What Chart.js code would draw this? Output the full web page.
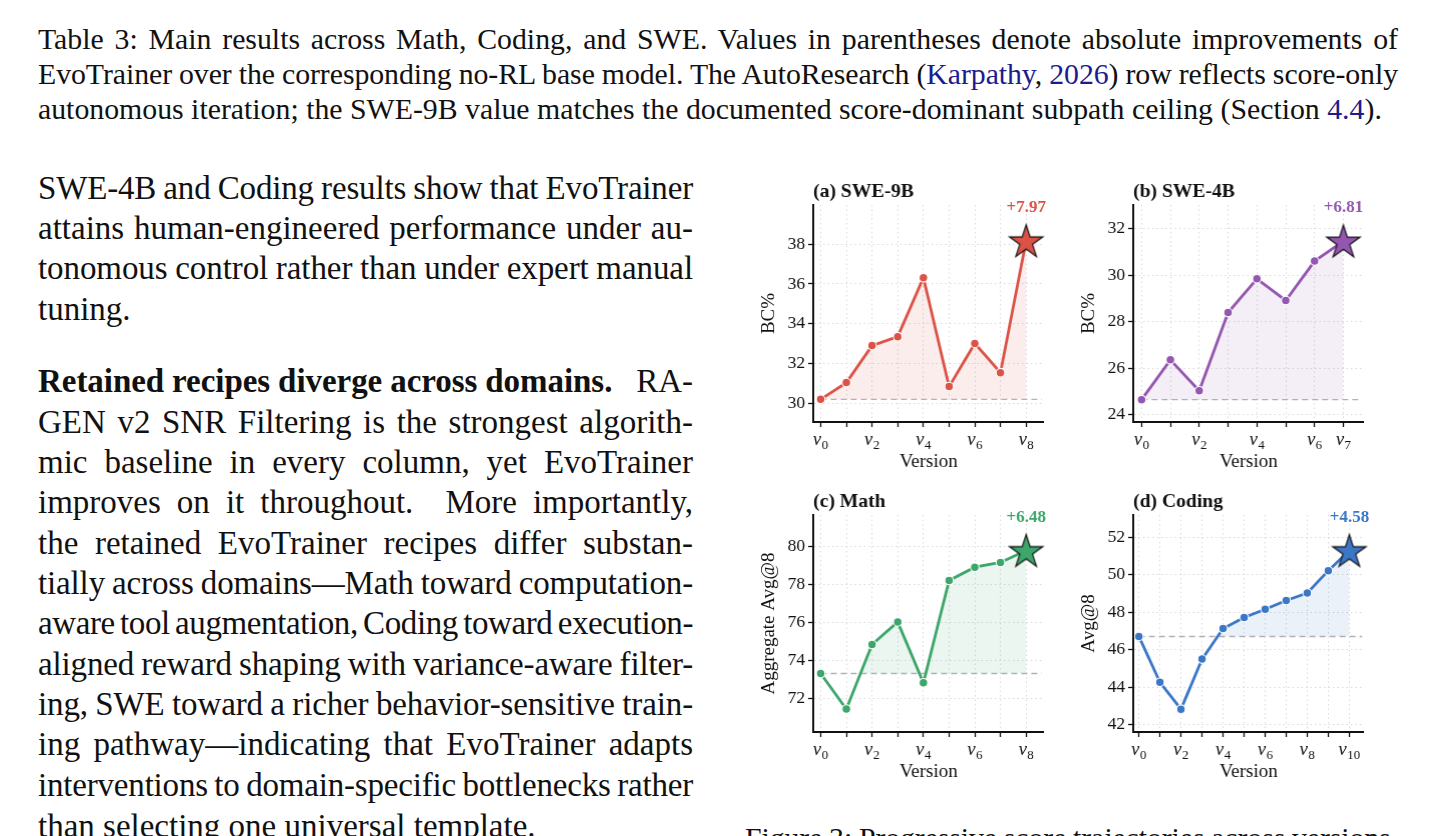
<!DOCTYPE html>
<html>
<head>
<meta charset="utf-8">
<title>EvoTrainer main results</title>
<script src="https://cdn.jsdelivr.net/npm/chart.js@4.4.1/dist/chart.umd.min.js"></script>
<style>
  html, body { margin: 0; padding: 0; background: #fff; }
  body {
    width: 1435px; height: 836px; overflow: hidden; position: relative;
    font-family: "Liberation Serif", "Times New Roman", serif; color: #111;
  }
  .jl { position: absolute; white-space: nowrap; display: inline-block; }
  .cap { font-size: 29.8px; line-height: 35px; }
  .txt { font-size: 33px; line-height: 40px; }
  .ref { color: #1c1c8e; }
  canvas { position: absolute; }
</style>
</head>
<body>

<!-- table caption -->
<div class="jl cap" data-w="1360" style="left:38px; top:20.5px;">Table 3: Main results across Math, Coding, and SWE. Values in parentheses denote absolute improvements of</div>
<div class="jl cap" data-w="1360" style="left:38px; top:55.5px;">EvoTrainer over the corresponding no-RL base model. The AutoResearch (<span class="ref">Karpathy</span>, <span class="ref">2026</span>) row reflects score-only</div>
<div class="jl cap" style="left:38px; top:90.5px;">autonomous iteration; the SWE-9B value matches the documented score-dominant subpath ceiling (Section <span class="ref">4.4</span>).</div>

<!-- left column text -->
<div class="jl txt" data-w="655" style="left:38px; top:168px;">SWE-4B and Coding results show that EvoTrainer</div>
<div class="jl txt" data-w="655" style="left:38px; top:208px;">attains human-engineered performance under au-</div>
<div class="jl txt" data-w="655" style="left:38px; top:248px;">tonomous control rather than under expert manual</div>
<div class="jl txt" style="left:38px; top:289px;">tuning.</div>

<div class="jl txt" data-w="655" style="left:38px; top:361px;"><b>Retained recipes diverge across domains.</b>&nbsp;&nbsp; RA-</div>
<div class="jl txt" data-w="655" style="left:38px; top:402px;">GEN v2 SNR Filtering is the strongest algorith-</div>
<div class="jl txt" data-w="655" style="left:38px; top:442px;">mic baseline in every column, yet EvoTrainer</div>
<div class="jl txt" data-w="655" style="left:38px; top:482px;">improves on it throughout.&nbsp; More importantly,</div>
<div class="jl txt" data-w="655" style="left:38px; top:523px;">the retained EvoTrainer recipes differ substan-</div>
<div class="jl txt" data-w="655" style="left:38px; top:563px;">tially across domains—Math toward computation-</div>
<div class="jl txt" data-w="655" style="left:38px; top:603px;">aware tool augmentation, Coding toward execution-</div>
<div class="jl txt" data-w="655" style="left:38px; top:644px;">aligned reward shaping with variance-aware filter-</div>
<div class="jl txt" data-w="655" style="left:38px; top:684px;">ing, SWE toward a richer behavior-sensitive train-</div>
<div class="jl txt" data-w="655" style="left:38px; top:724px;">ing pathway—indicating that EvoTrainer adapts</div>
<div class="jl txt" data-w="655" style="left:38px; top:765px;">interventions to domain-specific bottlenecks rather</div>
<div class="jl txt" style="left:38px; top:806px;">than selecting one universal template.</div>

<!-- figure caption, cut by the page edge -->
<div class="jl cap" data-w="653" style="left:745px; top:820px;">Figure 3: Progressive score trajectories across versions.</div>

<canvas id="chartA"></canvas>
<canvas id="chartB"></canvas>
<canvas id="chartC"></canvas>
<canvas id="chartD"></canvas>

<script>
// ---- data ----
var sweNineVersions = [0, 1, 2, 3, 4, 5, 6, 7, 8];
var sweNineScores = [30.20, 31.04, 32.90, 33.35, 36.31, 30.84, 33.01, 31.54, 38.17];
var sweNineTicks = [30, 32, 34, 36, 38];
var sweNineLabeled = [0, 2, 4, 6, 8];

var sweFourVersions = [0, 1, 2, 3, 4, 5, 6, 7];
var sweFourScores = [24.65, 26.36, 25.03, 28.39, 29.84, 28.91, 30.60, 31.46];
var sweFourTicks = [24, 26, 28, 30, 32];
var sweFourLabeled = [0, 2, 4, 6, 7];

var mathVersions = [0, 1, 2, 3, 4, 5, 6, 7, 8];
var mathScores = [73.33, 71.46, 74.86, 76.05, 72.84, 78.23, 78.93, 79.18, 79.81];
var mathTicks = [72, 74, 76, 78, 80];
var mathLabeled = [0, 2, 4, 6, 8];

var codingVersions = [0, 1, 2, 3, 4, 5, 6, 7, 8, 9, 10];
var codingScores = [46.71, 44.26, 42.83, 45.50, 47.13, 47.72, 48.16, 48.63, 49.03, 50.22, 51.29];
var codingTicks = [42, 44, 46, 48, 50, 52];
var codingLabeled = [0, 2, 4, 6, 8, 10];

var panelTitles = ["(a) SWE-9B", "(b) SWE-4B", "(c) Math", "(d) Coding"];
var axisTitles = ["BC%", "BC%", "Aggregate Avg@8", "Avg@8"];
var gainLabels = ["+7.97", "+6.81", "+6.48", "+4.58"];

var FONT = "'Liberation Serif', 'Times New Roman', serif";

// where each plot area sits on the page, and its axis ranges
var panels = [
    {id: "chartA", versions: sweNineVersions, scores: sweNineScores, ticks: sweNineTicks, labeled: sweNineLabeled,
     title: panelTitles[0], yTitle: axisTitles[0], gain: gainLabels[0], color: "#db5246",
     area: {left: 813.3, top: 205, right: 1052.7, bottom: 422.3}, xMin: -0.29, xMax: 8.69, yMin: 29.06, yMax: 39.97},
    {id: "chartB", versions: sweFourVersions, scores: sweFourScores, ticks: sweFourTicks, labeled: sweFourLabeled,
     title: panelTitles[1], yTitle: axisTitles[1], gain: gainLabels[1], color: "#9457b0",
     area: {left: 1133.3, top: 205, right: 1372.7, bottom: 422.3}, xMin: -0.29, xMax: 7.71, yMin: 23.69, yMax: 33.01},
    {id: "chartC", versions: mathVersions, scores: mathScores, ticks: mathTicks, labeled: mathLabeled,
     title: panelTitles[2], yTitle: axisTitles[2], gain: gainLabels[2], color: "#3ca66b",
     area: {left: 813.3, top: 515, right: 1052.7, bottom: 732.3}, xMin: -0.29, xMax: 8.69, yMin: 70.25, yMax: 81.68},
    {id: "chartD", versions: codingVersions, scores: codingScores, ticks: codingTicks, labeled: codingLabeled,
     title: panelTitles[3], yTitle: axisTitles[3], gain: gainLabels[3], color: "#3b77c6",
     area: {left: 1133.3, top: 515, right: 1372.7, bottom: 732.3}, xMin: -0.27, xMax: 10.69, yMin: 41.61, yMax: 53.19}
];

var Y_AXIS_W = 63;   // room left of the plot area
var X_AXIS_H = 56;   // room under the plot area
var PAD_TOP = 27;
var PAD_RIGHT = 9;

/**
 * stretch (or squeeze) every caption / paragraph line to its column width
 */
function justifyLines() {
    document.querySelectorAll(".jl[data-w]").forEach(function (el) {
        var target = parseFloat(el.dataset.w);
        var text = el.textContent;
        var spaces = (text.match(/[ \u00a0]/g) || []).length;
        if (!spaces) return;
        var diff = target - el.getBoundingClientRect().width;
        var ws = diff / spaces;
        if (diff < 0) {
            // squeeze letters a little instead of crushing the gaps
            el.style.letterSpacing = (diff * 0.6 / text.length) + "px";
            ws = diff * 0.4 / spaces;
        }
        el.style.wordSpacing = ws + "px";
        // second pass to land exactly on the column edge
        var rest = target - el.getBoundingClientRect().width;
        el.style.wordSpacing = (ws + rest / spaces) + "px";
    });
}

function hexToRgba(hex, a) {
    var n = parseInt(hex.slice(1), 16);
    return "rgba(" + (n >> 16) + "," + ((n >> 8) & 255) + "," + (n & 255) + "," + a + ")";
}

/**
 * five-pointed star used as the marker of the final version
 */
function makeStar(color) {
    var size = 42, outer = 17.5, inner = 17.5 * 0.382;
    var c = document.createElement("canvas");
    c.width = size;
    c.height = size;
    var g = c.getContext("2d");
    g.beginPath();
    for (var i = 0; i < 10; i++) {
        var r = i % 2 === 0 ? outer : inner;
        var ang = -Math.PI / 2 + i * Math.PI / 5;
        var px = size / 2 + r * Math.cos(ang);
        var py = size / 2 + 1.5 + r * Math.sin(ang);
        if (i === 0) g.moveTo(px, py); else g.lineTo(px, py);
    }
    g.closePath();
    g.fillStyle = color;
    g.fill();
    g.lineWidth = 1.2;
    g.strokeStyle = "#111";
    g.stroke();
    return c;
}

// panel title, v_k tick labels and the gain label above the star
var panelTextPlugin = {
    id: "panelText",
    afterDraw: function (chart, args, opts) {
        var ctx = chart.ctx;
        var area = chart.chartArea;
        var xScale = chart.scales.x;
        ctx.save();
        ctx.fillStyle = "#111";
        ctx.font = "bold 19.5px " + FONT;
        ctx.textAlign = "left";
        ctx.textBaseline = "middle";
        ctx.fillText(opts.title, area.left, area.top - 13);

        // tick labels like v with a subscript index
        ctx.textBaseline = "alphabetic";
        opts.labeled.forEach(function (v) {
            var x = xScale.getPixelForValue(v);
            var sub = String(v);
            ctx.font = "italic 18.5px " + FONT;
            var wv = ctx.measureText("v").width;
            ctx.font = "13px " + FONT;
            var ws = ctx.measureText(sub).width;
            var x0 = x - (wv + ws + 0.5) / 2;
            ctx.font = "italic 18.5px " + FONT;
            ctx.fillText("v", x0, area.bottom + 23);
            ctx.font = "13px " + FONT;
            ctx.fillText(sub, x0 + wv + 0.5, area.bottom + 27);
        });

        var meta = chart.getDatasetMeta(1);
        var last = meta.data[meta.data.length - 1];
        ctx.fillStyle = opts.color;
        ctx.font = "bold 17px " + FONT;
        ctx.textAlign = "center";
        ctx.textBaseline = "middle";
        ctx.fillText(opts.gain, last.x, area.top + 3);
        ctx.restore();
    }
};

function drawPanel(p) {
    var canvas = document.getElementById(p.id);
    var left = p.area.left - Y_AXIS_W;
    var top = p.area.top - PAD_TOP;
    var width = p.area.right + PAD_RIGHT - left;
    var height = p.area.bottom + X_AXIS_H - top;
    canvas.style.left = left + "px";
    canvas.style.top = top + "px";
    canvas.width = width;
    canvas.height = height;
    canvas.style.width = width + "px";
    canvas.style.height = height + "px";

    var points = p.versions.map(function (v, i) { return {x: v, y: p.scores[i]}; });
    var lastIdx = points.length - 1;
    var baseline = p.scores[0];
    var star = makeStar(p.color);

    var gridStyle = {color: "#dadada", lineWidth: 1, tickColor: "#111", tickLength: 5, tickWidth: 1.3};
    var borderStyle = {color: "#111", width: 2, dash: [1.5, 3]};

    new Chart(canvas, {
        type: "line",
        data: {
            datasets: [{
                // no-RL base level
                data: [{x: 0, y: baseline}, {x: p.xMax - 0.08, y: baseline}],
                borderColor: "#b3b3b3",
                borderWidth: 1.4,
                borderDash: [6, 4],
                pointRadius: 0,
                fill: false,
                order: 2
            }, {
                data: points,
                borderColor: p.color,
                borderWidth: 2.8,
                backgroundColor: p.color,
                fill: {target: {value: baseline}, above: hexToRgba(p.color, 0.1), below: "rgba(0,0,0,0)"},
                pointStyle: points.map(function (d, i) { return i === lastIdx ? star : "circle"; }),
                pointRadius: points.map(function (d, i) { return i === lastIdx ? 17 : 4.3; }),
                pointBackgroundColor: p.color,
                pointBorderColor: "#fff",
                pointBorderWidth: 1.1,
                tension: 0,
                clip: false,
                order: 1
            }]
        },
        options: {
            responsive: false,
            animation: false,
            events: [],
            layout: {padding: {top: PAD_TOP, right: PAD_RIGHT, left: 0, bottom: 0}},
            plugins: {
                legend: {display: false},
                tooltip: {enabled: false},
                panelText: {title: p.title, gain: p.gain, color: p.color, labeled: p.labeled}
            },
            scales: {
                x: {
                    type: "linear",
                    min: p.xMin,
                    max: p.xMax,
                    afterBuildTicks: function (s) {
                        s.ticks = p.versions.map(function (v) { return {value: v}; });
                    },
                    afterFit: function (s) { s.height = X_AXIS_H; },
                    ticks: {display: false},
                    grid: gridStyle,
                    border: borderStyle,
                    title: {display: true, text: "Version", color: "#111",
                            font: {family: FONT, size: 19}, padding: {top: 0, bottom: 5}}
                },
                y: {
                    type: "linear",
                    min: p.yMin,
                    max: p.yMax,
                    afterBuildTicks: function (s) {
                        s.ticks = p.ticks.map(function (v) { return {value: v}; });
                    },
                    afterFit: function (s) { s.width = Y_AXIS_W; },
                    ticks: {padding: 3, color: "#111", font: {family: FONT, size: 17.5}},
                    grid: gridStyle,
                    border: borderStyle,
                    title: {display: true, text: p.yTitle, color: "#111",
                            font: {family: FONT, size: 19}, padding: {top: 8, bottom: 0}}
                }
            }
        },
        plugins: [panelTextPlugin]
    });
}

justifyLines();
panels.forEach(drawPanel);
</script>
</body>
</html>
